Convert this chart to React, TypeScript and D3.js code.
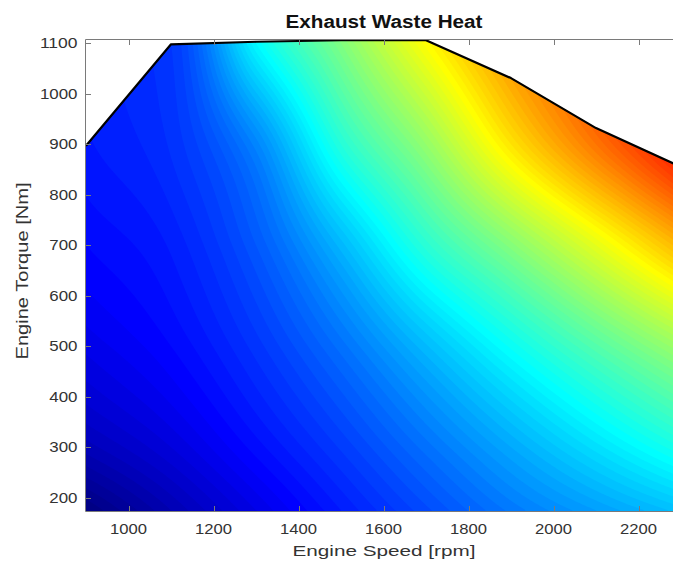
import React, { useMemo } from 'react';
import * as d3 from 'd3';

// ---- data ----
const SPEED_KNOTS = [900, 1100, 1300, 1500, 1700, 1900, 2100, 2300];
const TORQUE_KNOTS = [175, 300, 500, 700, 900, 1100];
// normalised exhaust waste heat level (0..1 on the colour scale), one row per torque knot
const HEAT_T175 = [0.0, 0.05, 0.1, 0.15, 0.197, 0.243, 0.28, 0.315];
const HEAT_T300 = [0.055, 0.09, 0.135, 0.182, 0.235, 0.29, 0.345, 0.4];
const HEAT_T500 = [0.103, 0.13, 0.175, 0.235, 0.308, 0.383, 0.457, 0.53];
const HEAT_T700 = [0.13, 0.152, 0.21, 0.305, 0.415, 0.505, 0.6, 0.7];
const HEAT_T900 = [0.148, 0.172, 0.255, 0.41, 0.52, 0.65, 0.76, 0.86];
const HEAT_T1100 = [0.155, 0.18, 0.37, 0.5, 0.625, 0.74, 0.82, 0.9];
const HEAT_ROWS = [HEAT_T175, HEAT_T300, HEAT_T500, HEAT_T700, HEAT_T900, HEAT_T1100];

// full-load torque curve
const LIMIT_SPEED = [900, 1100, 1300, 1500, 1700, 1900, 2100, 2300];
const LIMIT_TORQUE = [897, 1098, 1103, 1106, 1106, 1031, 932, 855];

const X_TICKS = [1000, 1200, 1400, 1600, 1800, 2000, 2200];
const Y_TICKS = [200, 300, 400, 500, 600, 700, 800, 900, 1000, 1100];
const X_DOMAIN = [900, 2300];
const Y_DOMAIN = [173.6, 1106.5];

const TITLE = 'Exhaust Waste Heat';
const X_LABEL = 'Engine Speed [rpm]';
const Y_LABEL = 'Engine Torque [Nm]';

// ---- helpers ----
function jet(t: number): string {
  const c = (v: number) => Math.max(0, Math.min(1, v));
  const r = c(1.5 - Math.abs(4 * t - 3));
  const g = c(1.5 - Math.abs(4 * t - 2));
  const b = c(1.5 - Math.abs(4 * t - 1));
  return `rgb(${Math.round(r * 255)},${Math.round(g * 255)},${Math.round(b * 255)})`;
}

// monotone cubic interpolation (same slope rule as d3.curveMonotoneX)
function monotone(xs: number[], ys: number[], xv: number): number {
  const n = xs.length;
  const sec = (i: number) => (ys[i + 1] - ys[i]) / (xs[i + 1] - xs[i]);
  if (xv <= xs[0]) return ys[0] + sec(0) * (xv - xs[0]);
  if (xv >= xs[n - 1]) return ys[n - 1] + sec(n - 2) * (xv - xs[n - 1]);
  let k = 0;
  while (k < n - 2 && xv > xs[k + 1]) k++;
  const slope = (i: number) => {
    if (i === 0) return sec(0);
    if (i === n - 1) return sec(n - 2);
    const h0 = xs[i] - xs[i - 1];
    const h1 = xs[i + 1] - xs[i];
    const s0 = sec(i - 1);
    const s1 = sec(i);
    const p = (s0 * h1 + s1 * h0) / (h0 + h1);
    return (Math.sign(s0) + Math.sign(s1)) * Math.min(Math.abs(s0), Math.abs(s1), 0.5 * Math.abs(p));
  };
  const h = xs[k + 1] - xs[k];
  const s = (xv - xs[k]) / h;
  const h00 = 2 * s ** 3 - 3 * s ** 2 + 1;
  const h10 = s ** 3 - 2 * s ** 2 + s;
  const h01 = -2 * s ** 3 + 3 * s ** 2;
  const h11 = s ** 3 - s ** 2;
  return h00 * ys[k] + h10 * h * slope(k) + h01 * ys[k + 1] + h11 * h * slope(k + 1);
}

const FONT = '"Liberation Sans", Arial, Helvetica, sans-serif';

export default function App() {
  const W = 673;
  const H = 563;
  const x = d3.scaleLinear().domain(X_DOMAIN).range([86, 681]);
  const y = d3.scaleLinear().domain(Y_DOMAIN).range([511, 40]);

  const NX = 300;
  const NY = 210;
  const gridTop = 1110;
  const gridBottom = Y_DOMAIN[0];

  const contours = useMemo(() => {
    const values = new Float64Array(NX * NY);
    for (let i = 0; i < NX; i++) {
      const s = X_DOMAIN[0] + ((i + 0.5) / NX) * (X_DOMAIN[1] - X_DOMAIN[0]);
      const col = HEAT_ROWS.map((row) => monotone(SPEED_KNOTS, row, s));
      for (let j = 0; j < NY; j++) {
        const t = gridTop - ((j + 0.5) / NY) * (gridTop - gridBottom);
        const v = monotone(TORQUE_KNOTS, col, t);
        values[i + j * NX] = Math.max(0, Math.min(1, v));
      }
    }
    const thresholds = d3.range(0, 1, 0.01);
    return d3.contours().size([NX, NY]).thresholds(thresholds)(Array.from(values));
  }, []);

  const path = d3.geoPath();
  const gx0 = x(X_DOMAIN[0]);
  const gx1 = x(X_DOMAIN[1]);
  const gy0 = y(gridTop);
  const gy1 = y(gridBottom);

  const regionPts: [number, number][] = [
    ...LIMIT_SPEED.map((s, i) => [x(s), y(LIMIT_TORQUE[i])] as [number, number]),
    [x(X_DOMAIN[1]), y(Y_DOMAIN[0])],
    [x(X_DOMAIN[0]), y(Y_DOMAIN[0])],
  ];
  const regionPath = d3.line()(regionPts) + 'Z';
  const limitLine = d3.line()(LIMIT_SPEED.map((s, i) => [x(s), y(LIMIT_TORQUE[i])] as [number, number]));

  const axisColor = '#7a7a7a';
  const textColor = '#333333';
  const tickLen = 5;
  const top = 40;
  const bottom = 511;
  const left = 86;

  return (
    <div style={{ position: 'absolute', left: 0, top: 0 }}>
      <svg width={W} height={H} style={{ display: 'block', background: '#ffffff' }}>
        <defs>
          <clipPath id="region">
            <path d={regionPath} />
          </clipPath>
        </defs>
        <g clipPath="url(#region)">
          <rect x={gx0} y={gy0} width={gx1 - gx0} height={gy1 - gy0} fill={jet(0)} />
          <g transform={`translate(${gx0},${gy0}) scale(${(gx1 - gx0) / NX},${(gy1 - gy0) / NY})`}>
            {contours.map((c, i) => (
              <path key={i} d={path(c as any) || ''} fill={jet(c.value + 0.005)} stroke="none" />
            ))}
          </g>
        </g>
        <path d={limitLine || ''} fill="none" stroke="#000" strokeWidth={2.2} strokeLinejoin="round" />

        {/* axes box */}
        <line x1={left - 0.5} x2={left - 0.5} y1={top - 0.5} y2={bottom + 0.5} stroke={axisColor} strokeWidth={1} />
        <line x1={left - 0.5} x2={W} y1={bottom + 0.5} y2={bottom + 0.5} stroke={axisColor} strokeWidth={1} />
        <line x1={left - 0.5} x2={W} y1={top - 0.5} y2={top - 0.5} stroke={axisColor} strokeWidth={1} />

        {X_TICKS.map((t) => (
          <g key={'x' + t}>
            <line x1={Math.round(x(t)) + 0.5} x2={Math.round(x(t)) + 0.5} y1={bottom} y2={bottom - tickLen} stroke={axisColor} />
            <line x1={Math.round(x(t)) + 0.5} x2={Math.round(x(t)) + 0.5} y1={top} y2={top + tickLen} stroke={axisColor} />
            <text
              x={x(t)}
              y={534}
              textAnchor="middle"
              fontFamily={FONT}
              fontSize={14}
              fill={textColor}
              textLength={37}
              lengthAdjust="spacingAndGlyphs"
            >
              {t}
            </text>
          </g>
        ))}
        {Y_TICKS.map((t) => (
          <g key={'y' + t}>
            <line x1={left} x2={left + tickLen} y1={Math.round(y(t)) + 0.5} y2={Math.round(y(t)) + 0.5} stroke={axisColor} />
            <text
              x={77.5}
              y={y(t) + 5}
              textAnchor="end"
              fontFamily={FONT}
              fontSize={14}
              fill={textColor}
              textLength={String(t).length * 9.4}
              lengthAdjust="spacingAndGlyphs"
            >
              {t}
            </text>
          </g>
        ))}

        <text
          x={384}
          y={28}
          textAnchor="middle"
          fontFamily={FONT}
          fontSize={18}
          fontWeight="bold"
          fill="#111"
          textLength={197}
          lengthAdjust="spacingAndGlyphs"
        >
          {TITLE}
        </text>
        <text
          x={384}
          y={556}
          textAnchor="middle"
          fontFamily={FONT}
          fontSize={15}
          fill={textColor}
          textLength={183}
          lengthAdjust="spacingAndGlyphs"
        >
          {X_LABEL}
        </text>
        <text
          transform={`translate(28,271) rotate(-90)`}
          textAnchor="middle"
          fontFamily={FONT}
          fontSize={16}
          fill={textColor}
          textLength={177}
          lengthAdjust="spacingAndGlyphs"
        >
          {Y_LABEL}
        </text>
      </svg>
    </div>
  );
}
